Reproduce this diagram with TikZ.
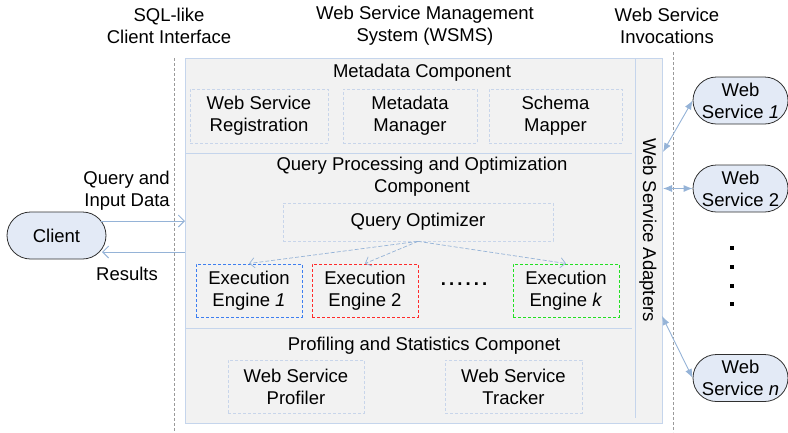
\documentclass[tikz,border=0pt]{standalone}
\usepackage{fontspec}
\setmainfont{Liberation Sans}
\usetikzlibrary{arrows.meta,shapes.misc}
\definecolor{boxfill}{HTML}{F2F2F2}
\definecolor{boxline}{HTML}{C5D5EC}
\definecolor{subline}{HTML}{C8D5EA}
\definecolor{arrcol}{HTML}{95B3D7}
\definecolor{ovalfill}{HTML}{E3EAF6}
\definecolor{ovalline}{HTML}{303030}
\definecolor{eonecol}{HTML}{3D7EF0}
\definecolor{etwocol}{HTML}{FF2A2A}
\definecolor{ekcol}{HTML}{22E022}
\definecolor{sepgray}{HTML}{9A9A9A}
\begin{document}
\begin{tikzpicture}[x=1pt,y=-1pt, font=\fontsize{18.5}{22}\selectfont,
 outerbox/.style={draw=boxline, fill=boxfill, line width=0.9pt, inner sep=0},
 subbox/.style={draw=subline, dash pattern=on 3pt off 2pt, line width=0.7pt, align=center, inner sep=0},
 engbox/.style={draw=#1, dash pattern=on 3pt off 2pt, line width=1pt, align=center, minimum width=106, minimum height=53, inner sep=0},
 oval/.style={rounded rectangle, draw=ovalline, fill=ovalfill, line width=0.8pt, align=center, inner sep=0, minimum height=47},
 lbl/.style={align=center, inner sep=0},
 openarr/.style={draw=arrcol, line width=0.9pt, -{Straight Barb[length=6pt,width=12pt]}},
 dasharr/.style={draw=arrcol, line width=0.7pt, dash pattern=on 4pt off 2pt, -{Straight Barb[length=5pt,width=10pt]}},
 wsarr/.style={draw=arrcol, line width=0.9pt, {Latex[length=9pt,width=7pt]}-{Latex[length=9pt,width=7pt]}},
 sepline/.style={draw=sepgray, dash pattern=on 3pt off 2pt, line width=0.7pt},
 divider/.style={draw=boxline, line width=0.9pt},
]
\path[use as bounding box] (0,0) rectangle (788,432);

% headers
\node[lbl] (h1) at (169,26) {SQL-like\\Client Interface};
\node[lbl] (h2) at (425,26) {Web Service Management\\System (WSMS)};
\node[lbl] (h3) at (667,26) {Web Service\\Invocations};

% separators
\draw[sepline] (174,58) -- (174,432);
\draw[sepline] (673,52) -- (673,432);

% outer box
\node[outerbox, minimum width=477, minimum height=365] (wsms) at (423.5,240.5) {};
\draw[divider] (185,153) -- (632,153);
\draw[divider] (185,328) -- (632,328);
\draw[divider] (635,58) -- (635,418);
\node[lbl, rotate=-90] (adapt) at (648,230) {Web Service Adapters};

% metadata component
\node[lbl] (mdt) at (422,73) {Metadata Component};
\node[subbox, minimum width=138, minimum height=54] (wsr) at (259,116) {Web Service\\Registration};
\node[subbox, minimum width=134, minimum height=54] (mdm) at (410,116) {Metadata\\Manager};
\node[subbox, minimum width=133, minimum height=54] (scm) at (555.5,116) {Schema\\Mapper};

% query processing
\node[lbl] (qpt) at (422,177) {Query Processing and Optimization\\Component};
\node[subbox, minimum width=270, minimum height=38] (qo) at (418,222) {Query Optimizer};
\node[engbox=eonecol] (e1) at (249,290.5) {Execution\\Engine \textit{1}};
\node[engbox=etwocol] (e2) at (365,290.5) {Execution\\Engine 2};
\node[engbox=ekcol] (ek) at (566,290.5) {Execution\\Engine \textit{k}};
\node[lbl] (edots) at (464,284) {\textbf{.\,.\,.\,.\,.\,.}};
\draw[dasharr] (qo.south) -- (e1.north);
\draw[dasharr] (qo.south) -- (e2.north);
\draw[dasharr] (qo.south) -- (ek.north);

% profiling
\node[lbl] (pst) at (424,346) {Profiling and Statistics Componet};
\node[subbox, minimum width=136, minimum height=53] (wsp) at (296,386.5) {Web Service\\Profiler};
\node[subbox, minimum width=137, minimum height=53] (wst) at (513.5,386.5) {Web Service\\Tracker};

% client
\node[oval, minimum width=99] (client) at (56.5,235.5) {Client};
\coordinate (cq) at (101,221);
\coordinate (qin) at (185,221);
\coordinate (rout) at (185,252);
\coordinate (cr) at (102,252);
\draw[openarr] (cq) -- (qin);
\draw[openarr] (rout) -- (cr);
\node[lbl, align=right, anchor=east] (qlbl) at (170,190.5) {Query and\\Input Data};
\node[lbl] (rlbl) at (127,274) {Results};

% web services
\node[oval, minimum width=95] (ws1) at (740.5,100.5) {Web\\Service \textit{1}};
\node[oval, minimum width=95] (ws2) at (740.5,188.5) {Web\\Service 2};
\node[oval, minimum width=95] (wsn) at (740.5,378) {Web\\Service \textit{n}};
\coordinate (a1) at (663,152);
\coordinate (a2) at (663,188.5);
\coordinate (a3) at (662,316);
\draw[wsarr] (a1) -- (ws1.west);
\draw[wsarr] (a2) -- (ws2.west);
\draw[wsarr] (a3) -- (wsn.west);

% vertical dots
\foreach \yy in {248,267,286,304} {\fill (730,\yy-2) rectangle (734,\yy+2);}
\end{tikzpicture}
\end{document}
